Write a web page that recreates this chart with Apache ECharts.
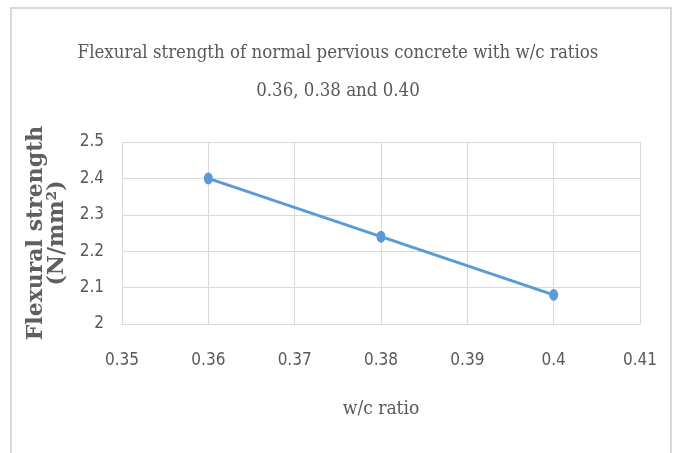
<!DOCTYPE html>
<html><head><meta charset="utf-8">
<script src="https://cdn.jsdelivr.net/npm/echarts@6/dist/echarts.min.js"></script>
<style>html,body{margin:0;padding:0;background:#fff}#c{width:676px;height:453px}</style>
</head><body><div id="c"></div>
<script>
var wcRatio = [0.36, 0.38, 0.40];
var flexural = [2.40, 2.24, 2.08];
var titleLines = ['Flexural strength of normal pervious concrete with w/c ratios', '0.36, 0.38 and 0.40'];
var xTitle = 'w/c ratio';
var yTitle = 'Flexural strength\n(N/mm²)';

var chart = echarts.init(document.getElementById('c'));
var condSerif = '"DejaVu Serif Condensed", "Liberation Serif", serif';
var condSans = '"DejaVu Sans Condensed", "Liberation Sans Narrow", "Liberation Sans", sans-serif';
chart.setOption({
  backgroundColor: '#ffffff',
  animation: false,
  graphic: [{
    type: 'rect', shape: {x: 11, y: 8, width: 660, height: 460},
    style: {fill: 'none', stroke: '#d9d9d9', lineWidth: 2}, silent: true
  }],
  title: {
    text: titleLines.join('\n'), left: 'center', top: 29,
    textStyle: {fontFamily: condSerif, fontWeight: 'normal', fontSize: 18.5, color: '#595959', lineHeight: 38}
  },
  grid: {left: 122, right: 36, top: 142, bottom: 129, containLabel: false, outerBoundsMode: 'none'},
  xAxis: {
    type: 'value', min: 0.35, max: 0.41, interval: 0.01,
    name: xTitle, nameLocation: 'middle', nameGap: 76,
    nameTextStyle: {fontFamily: condSerif, fontSize: 19, color: '#595959'},
    axisLine: {show: true, lineStyle: {color: '#d9d9d9', width: 1}},
    axisTick: {show: false},
    axisLabel: {margin: 28, fontFamily: condSans, fontSize: 17, color: '#595959',
      formatter: function (v) { return String(parseFloat(v.toFixed(2))); }},
    splitLine: {show: true, lineStyle: {color: '#d9d9d9', width: 1}}
  },
  yAxis: {
    type: 'value', min: 2, max: 2.5, interval: 0.1,
    name: yTitle, nameLocation: 'middle', nameGap: 54, nameRotate: 90,
    nameTextStyle: {fontFamily: '"DejaVu Serif", "Liberation Serif", serif', fontWeight: 'bold', fontSize: 22, color: '#5f5f5f', lineHeight: 21},
    axisLine: {show: false},
    axisTick: {show: false},
    axisLabel: {margin: 18, fontFamily: condSans, fontSize: 17, color: '#595959',
      formatter: function (v) { return String(parseFloat(v.toFixed(1))); }},
    splitLine: {show: true, lineStyle: {color: '#d9d9d9', width: 1}}
  },
  series: [{
    type: 'line',
    data: wcRatio.map(function (x, i) { return [x, flexural[i]]; }),
    lineStyle: {color: '#5b9bd5', width: 3},
    itemStyle: {color: '#5b9bd5'},
    symbol: 'circle', symbolSize: [9, 12]
  }]
});
</script></body></html>
